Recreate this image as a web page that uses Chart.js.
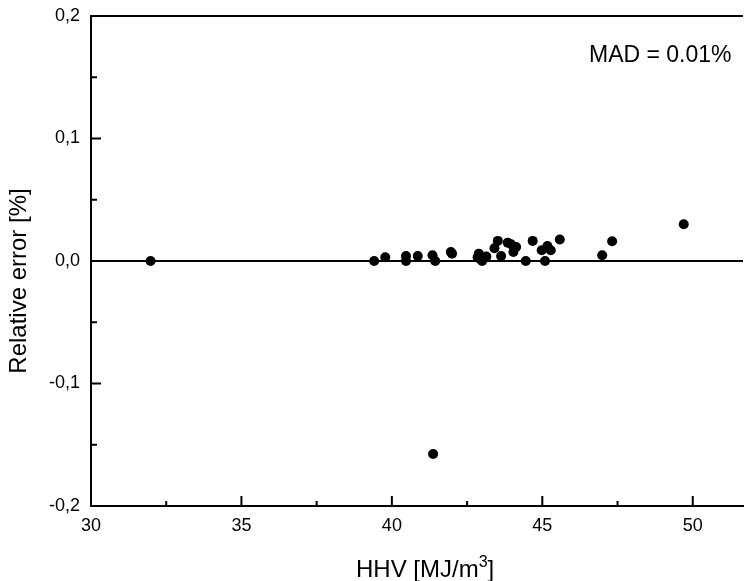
<!DOCTYPE html>
<html><head><meta charset="utf-8">
<script src="https://cdn.jsdelivr.net/npm/chart.js@4"></script>
<style>html,body{margin:0;padding:0;background:#fff}</style>
</head><body>
<canvas id="c" width="748" height="581" style="display:block"></canvas>
<script>
// HHV [MJ/m3]
const hhv = [31.98, 39.41, 39.78, 40.47, 40.47, 40.86, 41.35, 41.44, 41.96, 42.00,
             42.85, 42.89, 42.94, 43.00, 43.14, 43.41, 43.52, 43.63, 43.85, 43.96,
             44.04, 44.13, 44.45, 44.68, 44.98, 45.09, 45.17, 45.28, 45.58, 46.99,
             47.32, 49.70, 41.37];
// Relative error [%]
const relErr = [0.000, 0.000, 0.003, 0.004, 0.000, 0.004, 0.0047, 0.000, 0.0074, 0.006,
                0.003, 0.006, 0.0014, 0.000, 0.0036, 0.0104, 0.0164, 0.004, 0.015, 0.0137,
                0.0074, 0.0115, 0.000, 0.0164, 0.0088, 0.000, 0.0123, 0.0088, 0.0175, 0.0047,
                0.0161, 0.030, -0.1576];
const xMajorTicks = [30, 35, 40, 45, 50];
const xTickLabels = ['30', '35', '40', '45', '50'];
const yMajorTicks = [-0.2, -0.1, 0.0, 0.1, 0.2];
const yTickLabels = ['-0,2', '-0,1', '0,0', '0,1', '0,2'];
const xTitle = 'HHV [MJ/m';
const xTitleSup = '3';
const xTitleEnd = ']';
const yTitle = 'Relative error [%]';
const annotationText = 'MAD = 0.01%';

const FONT = '"Liberation Sans", Arial, sans-serif';

function labelFor(v, majors, labels) {
  for (let i = 0; i < majors.length; i++) {
    if (Math.abs(v - majors[i]) < 1e-9) return labels[i];
  }
  return '';
}

const decorPlugin = {
  id: 'decor',
  afterDraw(chart) {
    const ctx = chart.ctx;
    const ca = chart.chartArea;
    const xs = chart.scales.x, ys = chart.scales.y;
    ctx.save();
    ctx.strokeStyle = '#000';
    ctx.lineWidth = 2;
    // top frame line
    ctx.beginPath();
    ctx.moveTo(ca.left - 1, ca.top);
    ctx.lineTo(ca.right, ca.top);
    ctx.stroke();
    // inward tick marks
    ctx.beginPath();
    xs.ticks.forEach(t => {
      const px = xs.getPixelForValue(t.value);
      const major = labelFor(t.value, xMajorTicks, xTickLabels) !== '';
      const len = major ? 10 : 5;
      ctx.moveTo(px, ca.bottom);
      ctx.lineTo(px, ca.bottom - len);
    });
    ys.ticks.forEach(t => {
      const py = ys.getPixelForValue(t.value);
      const major = labelFor(t.value, yMajorTicks, yTickLabels) !== '';
      const len = major ? 10 : 6;
      ctx.moveTo(ca.left, py);
      ctx.lineTo(ca.left + len, py);
    });
    ctx.stroke();
    // annotation
    ctx.fillStyle = '#000';
    ctx.font = '23px ' + FONT;
    ctx.textAlign = 'left';
    ctx.textBaseline = 'alphabetic';
    ctx.fillText(annotationText, 589, 62);
    // x title with superscript
    ctx.font = '24px ' + FONT;
    const w1 = ctx.measureText(xTitle).width;
    ctx.font = '16px ' + FONT;
    const w2 = ctx.measureText(xTitleSup).width;
    let x0 = 356;
    const base = 577;
    ctx.font = '24px ' + FONT;
    ctx.fillText(xTitle, x0, base);
    ctx.font = '16px ' + FONT;
    ctx.fillText(xTitleSup, x0 + w1, base - 10);
    ctx.font = '24px ' + FONT;
    ctx.fillText(xTitleEnd, x0 + w1 + w2, base);
    // y title
    ctx.translate(19, 281);
    ctx.rotate(-Math.PI / 2);
    ctx.textAlign = 'center';
    ctx.textBaseline = 'middle';
    ctx.fillText(yTitle, 0, 0);
    ctx.restore();
  }
};

new Chart(document.getElementById('c'), {
  type: 'scatter',
  data: {
    datasets: [{
      data: hhv.map((x, i) => ({ x: x, y: relErr[i] })),
      backgroundColor: '#000',
      borderColor: '#000',
      borderWidth: 0,
      pointRadius: 5,
      pointHoverRadius: 5
    }]
  },
  options: {
    responsive: false,
    animation: false,
    devicePixelRatio: 1,
    events: [],
    layout: { padding: { top: 16, right: 0, left: 0, bottom: 0 } },
    plugins: { legend: { display: false }, tooltip: { enabled: false } },
    scales: {
      x: {
        type: 'linear',
        min: 30,
        max: 51.67,
        afterFit: s => { s.height = 75; s.paddingLeft = 0; s.paddingRight = 0; },
        border: { display: true, color: '#000', width: 2 },
        grid: { display: false, drawTicks: false },
        ticks: {
          stepSize: 2.5,
          includeBounds: false,
          autoSkip: false,
          maxRotation: 0,
          padding: 9,
          color: '#000',
          font: { family: FONT, size: 18 },
          callback: v => labelFor(v, xMajorTicks, xTickLabels)
        }
      },
      y: {
        type: 'linear',
        min: -0.2,
        max: 0.2,
        afterFit: s => { s.width = 91; s.paddingTop = 0; s.paddingBottom = 0; },
        border: { display: true, color: '#000', width: 2 },
        grid: {
          display: true,
          drawTicks: false,
          drawOnChartArea: true,
          lineWidth: 2,
          color: c => (c.tick && Math.abs(c.tick.value) < 1e-9) ? '#000' : 'rgba(0,0,0,0)'
        },
        ticks: {
          stepSize: 0.05,
          includeBounds: false,
          autoSkip: false,
          padding: 11,
          color: '#000',
          font: { family: FONT, size: 18 },
          callback: v => labelFor(v, yMajorTicks, yTickLabels)
        }
      }
    }
  },
  plugins: [decorPlugin]
});
</script>
</body></html>
